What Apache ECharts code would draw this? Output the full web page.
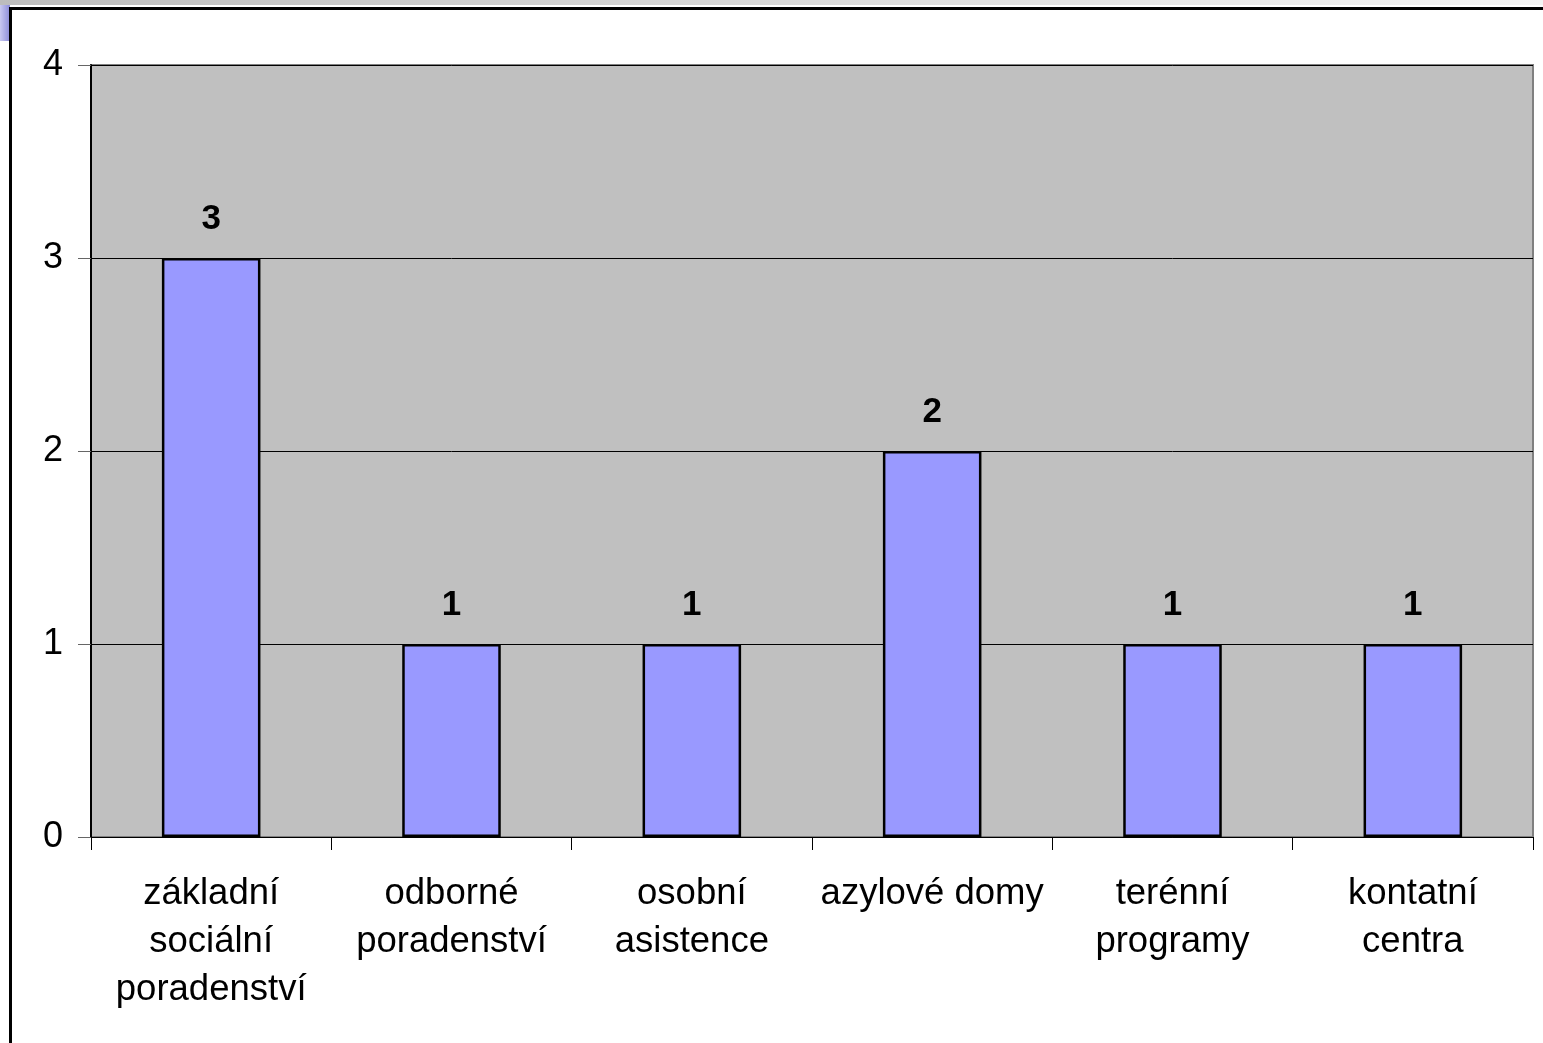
<!DOCTYPE html>
<html><head><meta charset="utf-8">
<script src="https://cdn.jsdelivr.net/npm/echarts@6/dist/echarts.min.js"></script>
<style>html,body{margin:0;padding:0;background:#fff}#c{width:1543px;height:1043px}</style>
</head><body><div id="c"></div>
<script>
const categories = ["základní\nsociální\nporadenství", "odborné\nporadenství", "osobní\nasistence", "azylové domy", "terénní\nprogramy", "kontatní\ncentra"];
const values = [3, 1, 1, 2, 1, 1];
const yTicks = [0, 1, 2, 3, 4];

const chart = echarts.init(document.getElementById('c'));
const font = '"Liberation Sans", Arial, sans-serif';
chart.setOption({
  animation: false,
  graphic: [
    { type: 'rect', shape: { x: 0, y: 0, width: 1543, height: 5 }, style: { fill: new echarts.graphic.LinearGradient(0,0,1,0,[{offset:0,color:'#bdbdbd'},{offset:1,color:'#f4f4f4'}]) }, silent: true },
    { type: 'rect', shape: { x: 0, y: 5, width: 10, height: 36 }, style: { fill: new echarts.graphic.LinearGradient(0,0,1,0,[{offset:0,color:'#c8c8f0'},{offset:1,color:'#8c8cd8'}]) }, silent: true },
    { type: 'rect', shape: { x: 10.5, y: 8.5, width: 1600, height: 1100 }, style: { fill: 'none', stroke: '#000', lineWidth: 3 }, silent: true }
  ],
  grid: { left: 91, right: 10, top: 65, bottom: 206, show: true, backgroundColor: '#C0C0C0', borderColor: '#808080', borderWidth: 2 },
  xAxis: {
    type: 'category', data: categories,
    axisLine: { show: true, lineStyle: { color: '#000', width: 1 } },
    axisTick: { show: true, length: 13, alignWithLabel: false, lineStyle: { color: '#000' } },
    axisLabel: { interval: 0, fontFamily: font, fontSize: 36.5, color: '#000', lineHeight: 48, margin: 33, align: 'center' },
    splitLine: { show: false }
  },
  yAxis: {
    type: 'value', min: 0, max: 4, interval: 1,
    axisLine: { show: true, lineStyle: { color: '#000', width: 2 } },
    axisTick: { show: true, length: 13, lineStyle: { color: '#666' } },
    axisLabel: { fontFamily: font, fontSize: 36, color: '#000', margin: 28, formatter: v => yTicks.includes(v) ? String(v) : '' },
    splitLine: { show: true, lineStyle: { color: '#000', width: 1 } }
  },
  series: [{
    type: 'bar', data: values, barWidth: '41%',
    itemStyle: { color: '#9999FF', borderColor: '#000', borderWidth: 2.5 },
    label: { show: true, position: 'top', distance: 21, fontFamily: font, fontSize: 35, fontWeight: 'bold', color: '#000' }
  }]
});
</script></body></html>
